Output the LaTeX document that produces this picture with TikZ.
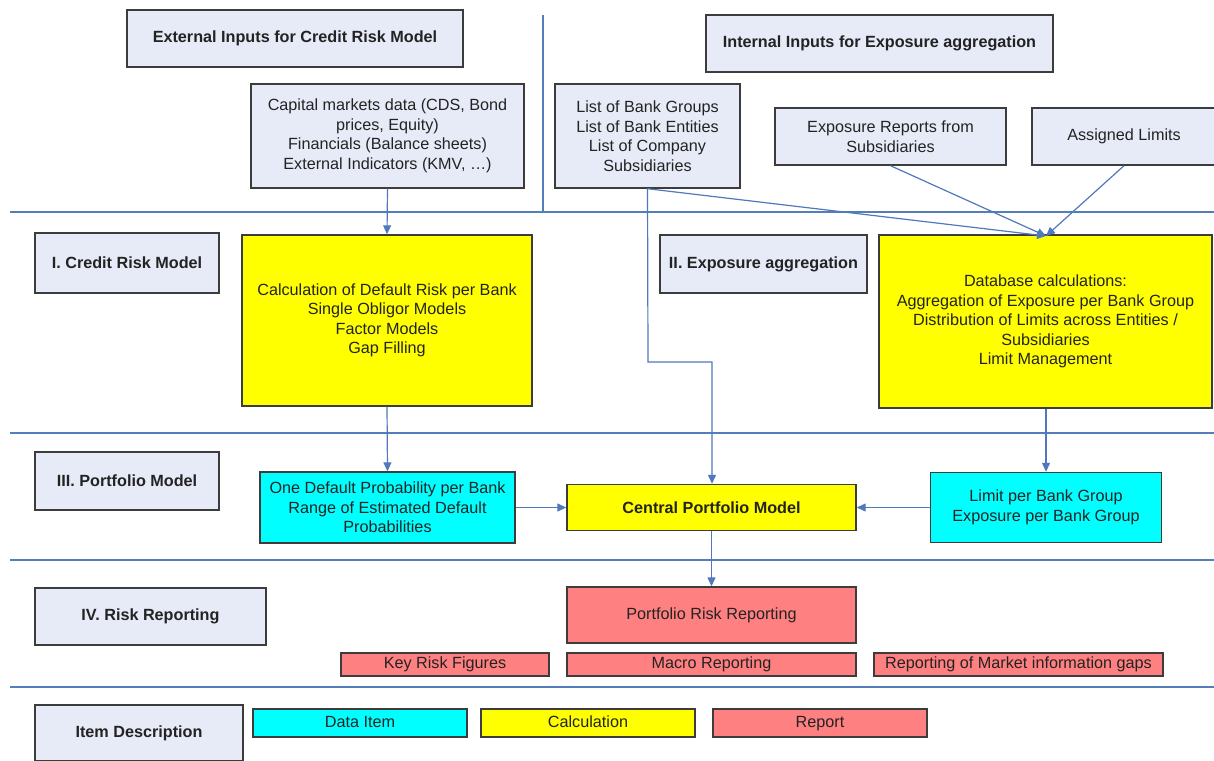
\documentclass[tikz,border=0pt]{standalone}
\usepackage{fontspec}
\setmainfont{Liberation Sans}
\usetikzlibrary{arrows.meta}
\definecolor{lbox}{RGB}{230,235,247}
\definecolor{bord}{RGB}{60,60,60}
\definecolor{sep}{RGB}{84,126,184}
\definecolor{arr}{RGB}{80,120,190}
\definecolor{yel}{RGB}{255,255,0}
\definecolor{cya}{RGB}{0,255,255}
\definecolor{rep}{RGB}{255,128,128}
\definecolor{txt}{RGB}{35,35,35}
\tikzset{
  base/.style={draw=bord, line width=1.4pt, inner sep=2pt, align=center, text=txt,
    font=\fontsize{16.2}{19.5}\selectfont},
  title/.style={base, fill=lbox, font=\fontsize{16.2}{19.5}\selectfont\bfseries},
  inbox/.style={base, fill=lbox},
  calcbox/.style={base, fill=yel},
  databox/.style={base, fill=cya},
  repbox/.style={base, fill=rep},
  slim/.style={inner sep=0pt, text height=11.5pt, text depth=3.5pt},
  sepline/.style={draw=sep, line width=1.6pt},
  flow/.style={draw=arr, line width=1.2pt, -{Triangle[length=9pt,width=8pt]}},
  wh/.style n args={2}{minimum width=#1pt, minimum height=#2pt}
}
\begin{document}
\begin{tikzpicture}[x=1pt,y=-1pt]
\useasboundingbox (0,0) rectangle (1214,760);
\fill[white] (0,0) rectangle (1214,760);
% separators
\draw[sepline] (10,212) -- (1214,212);
\draw[sepline] (10,433) -- (1214,433);
\draw[sepline] (10,560) -- (1214,560);
\draw[sepline] (10,687) -- (1214,687);
\draw[sepline] (543,15) -- (543,212);
% inputs
\node[title, wh={336}{57}] (ext) at (295,38.5) {External Inputs for Credit Risk Model};
\node[title, wh={347}{57}] (int) at (879.5,43.5) {Internal Inputs for Exposure aggregation};
\node[inbox, wh={273}{104}] (cap) at (387.5,136) {Capital markets data (CDS, Bond\\ prices, Equity)\\ Financials (Balance sheets)\\ External Indicators (KMV, \dots)};
\node[inbox, wh={185}{104}] (list) at (647.5,136) {List of Bank Groups\\ List of Bank Entities\\ List of Company\\ Subsidiaries};
\node[inbox, wh={231}{57}] (expr) at (890.5,136.5) {Exposure Reports from\\ Subsidiaries};
\node[inbox, wh={184}{57}] (lim) at (1124,136.5) {Assigned Limits};
% level I / II
\node[title, wh={184}{60}] (crm) at (127,263) {I. Credit Risk Model};
\node[calcbox, wh={290}{171}] (calc) at (387,320.5) {Calculation of Default Risk per Bank\\ Single Obligor Models\\ Factor Models\\ Gap Filling};
\node[title, wh={207}{58}] (expagg) at (763.5,264) {II. Exposure aggregation};
\node[calcbox, wh={333}{173}] (db) at (1045.5,321.5) {Database calculations:\\ Aggregation of Exposure per Bank Group\\ Distribution of Limits across Entities /\\ Subsidiaries\\ Limit Management};
% level III
\node[title, wh={184}{58}] (pm) at (127,481) {III. Portfolio Model};
\node[databox, wh={255}{71}] (dp) at (387.5,507.5) {One Default Probability per Bank\\ Range of Estimated Default\\ Probabilities};
\node[calcbox, wh={289}{46}, font=\fontsize{16.2}{19.5}\selectfont\bfseries] (cpm) at (711.5,507.5) {Central Portfolio Model};
\node[databox, wh={231}{70}] (lpb) at (1046,507.5) {Limit per Bank Group\\ Exposure per Bank Group};
% level IV
\node[title, wh={231}{57}] (rr) at (150.5,616.5) {IV. Risk Reporting};
\node[repbox, wh={289}{56}] (prr) at (711.5,615) {Portfolio Risk Reporting};
\node[repbox, wh={208}{23}, slim] (krf) at (445,664.5) {Key Risk Figures};
\node[repbox, wh={289}{23}, slim] (macro) at (711.5,664.5) {Macro Reporting};
\node[repbox, wh={289}{23}, slim] (gaps) at (1018.5,664.5) {Reporting of Market information gaps};
% legend
\node[title, wh={208}{56}] (itemd) at (139,733) {Item Description};
\node[databox, wh={214}{28}, slim] (ldata) at (360,723) {Data Item};
\node[calcbox, wh={214}{28}, slim] (lcalc) at (588,723) {Calculation};
\node[repbox, wh={214}{28}, slim] (lrep) at (820,723) {Report};
% connectors
\coordinate (e1) at (648,362);
\coordinate (e2) at (712,362);
\coordinate (dbin) at (1046,236);
\draw[flow] (cap.south) -- (calc.north);
\draw[flow] (calc.south) -- (dp.north);
\draw[flow] (list.south) -- (e1) -- (e2) -- (cpm.north -| e2);
\draw[flow] (list.south) -- (dbin);
\draw[flow] (expr.south) -- (dbin);
\draw[flow] (lim.south) -- (dbin);
\draw[flow] (db.south -| lpb.north) -- (lpb.north);
\draw[flow] (dp.east) -- (cpm.west);
\draw[flow] (lpb.west) -- (cpm.east);
\draw[flow] (cpm.south) -- (prr.north);
\end{tikzpicture}
\end{document}
